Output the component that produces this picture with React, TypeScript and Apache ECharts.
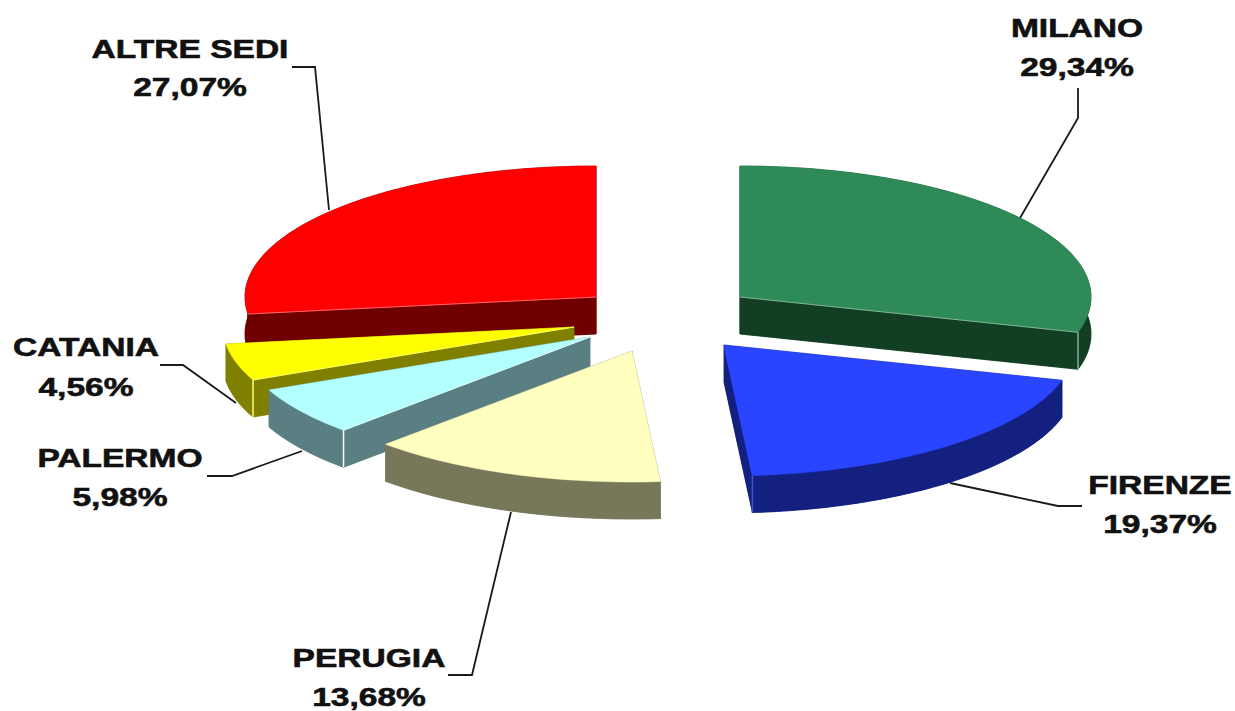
import React, { useEffect, useRef } from "react";
import * as echarts from "echarts";

// ---- data, clockwise from 12 o'clock
const names = ["MILANO", "FIRENZE", "PERUGIA", "PALERMO", "CATANIA", "ALTRE SEDI"];
const shares = [29.34, 19.37, 13.68, 5.98, 4.56, 27.07];

// ---- styles
const topColors = ["#2E8B57", "#2A45FF", "#FFFFC0", "#B3FFFF", "#FFFF00", "#FF0000"];
const sideColors = ["#123F24", "#14207F", "#77775A", "#5A7F82", "#808000", "#700000"];
const cornerColors = ["#7FB595", "#3A55C8", "#77775A", "#FFFFFF", "#FFFF66", "#700000"];
const topEdgeColors = ["#7FB595", "#2A45FF", "#FFFFC0", "#DDFFFF", "#FFFF66", "#FF6666"];

// ---- layout: explosion of each slice, from the pie centre
const centre = { x: 668, y: 300 };
const explodeX = [72, 56, -36, -78, -94, -72];
const explodeY = [-3, 45, 51, 37, 27, -3];
const radiusX = 351;
const radiusY = 131;
const depth = 37;
const paintOrder = [5, 0, 4, 3, 2, 1];

// ---- labels: centre x, y of name line, y of value line, leader line
const labelX = [1077, 1160, 369, 120, 86, 190];
const nameY = [28, 485, 658, 458, 347, 49];
const valueY = [67, 524, 697, 497, 387, 87];
const leaders: number[][][] = [
  [[1078, 88], [1078, 118], [1020, 218]],
  [[950, 483], [1058, 506], [1082, 506]],
  [[511, 512], [472, 675], [448, 675]],
  [[302, 451], [232, 476], [207, 476]],
  [[160, 365], [183, 365], [236, 403]],
  [[292, 67], [315, 67], [329, 210]],
];

const total = shares.reduce((a, b) => a + b, 0);
const startAngles: number[] = [];
shares.reduce((acc, v, i) => {
  startAngles[i] = (acc / total) * Math.PI * 2;
  return acc + v;
}, 0);

function arcPoints(cx: number, cy: number, a0: number, a1: number, dy = 0): number[][] {
  const steps = Math.max(2, Math.ceil((a1 - a0) / 0.02));
  const pts: number[][] = [];
  for (let k = 0; k <= steps; k++) {
    const a = a0 + ((a1 - a0) * k) / steps;
    pts.push([cx + radiusX * Math.sin(a), cy - radiusY * Math.cos(a) + dy]);
  }
  return pts;
}

function renderSlice(params: any) {
  const i = paintOrder[params.dataIndex];
  const a0 = startAngles[i];
  const a1 = a0 + (shares[i] / total) * Math.PI * 2;
  const cx = centre.x + explodeX[i];
  const cy = centre.y + explodeY[i];
  const top = arcPoints(cx, cy, a0, a1);
  const bottom = arcPoints(cx, cy, a0, a1, depth);
  const side = { fill: sideColors[i], stroke: sideColors[i], lineWidth: 0.5 };
  const first = top[0];
  const last = top[top.length - 1];
  const children: any[] = [
    { type: "polygon", shape: { points: [[cx, cy + depth], ...bottom] }, style: side },
    { type: "polygon", shape: { points: [[cx, cy], first, [first[0], first[1] + depth], [cx, cy + depth]] }, style: side },
    { type: "polygon", shape: { points: [[cx, cy], last, [last[0], last[1] + depth], [cx, cy + depth]] }, style: side },
    { type: "polygon", shape: { points: [...top, ...bottom.slice().reverse()] }, style: side },
    { type: "polygon", shape: { points: [[cx, cy], ...top] }, style: { fill: topColors[i], stroke: topColors[i], lineWidth: 0.5 } },
  ];
  // the corner and upper edge of whichever radial wall faces the viewer
  const edges: [number[], boolean][] = [
    [first, Math.sin(a0) < -1e-6],
    [last, Math.sin(a1) > 1e-6],
  ];
  edges.forEach(([p, visible]) => {
    if (!visible) return;
    children.push({
      type: "line",
      shape: { x1: p[0], y1: p[1], x2: p[0], y2: p[1] + depth },
      style: { stroke: cornerColors[i], lineWidth: 1.5 },
    });
    children.push({
      type: "line",
      shape: { x1: cx, y1: cy, x2: p[0], y2: p[1] },
      style: { stroke: topEdgeColors[i], lineWidth: 1 },
    });
  });
  return { type: "group", children };
}

const formatShare = (v: number) => v.toFixed(2).replace(".", ",") + "%";

function labelText(text: string, x: number, y: number) {
  return {
    type: "text",
    x,
    y,
    scaleX: 1.29,
    z: 10,
    style: {
      text,
      font: 'bold 26px "Liberation Sans", Arial, sans-serif',
      fill: "#111111",
      stroke: "#111111",
      lineWidth: 0.6,
      textAlign: "center",
      textVerticalAlign: "middle",
    },
  };
}

export default function App() {
  const ref = useRef<HTMLDivElement>(null);
  useEffect(() => {
    const chart = echarts.init(ref.current!, undefined, { renderer: "svg" });
    const graphics: any[] = [];
    names.forEach((name, i) => {
      graphics.push(labelText(name, labelX[i], nameY[i]));
      graphics.push(labelText(formatShare(shares[i]), labelX[i], valueY[i]));
      graphics.push({
        type: "polyline",
        z: 1,
        shape: { points: leaders[i] },
        style: { stroke: "#1a1a1a", lineWidth: 1.8, fill: "none" },
      });
    });
    chart.setOption({
      animation: false,
      backgroundColor: "#FFFFFF",
      series: [
        {
          type: "custom",
          coordinateSystem: "none",
          z: 5,
          silent: true,
          data: paintOrder.map((i) => shares[i]),
          renderItem: renderSlice,
        },
      ],
      graphic: graphics,
    });
    return () => chart.dispose();
  }, []);
  return (
    <div
      ref={ref}
      style={{ position: "absolute", left: 0, top: 0, width: 1235, height: 711 }}
    />
  );
}
